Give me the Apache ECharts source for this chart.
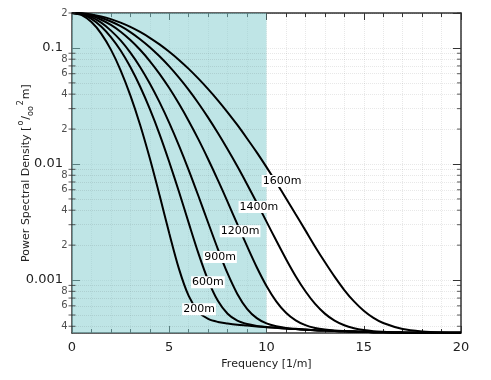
<!DOCTYPE html>
<html>
<head>
<meta charset="utf-8">
<script src="https://cdn.jsdelivr.net/npm/echarts@6/dist/echarts.min.js"></script>
<style>
html, body { margin: 0; padding: 0; background: #fff; }
#chart { width: 491px; height: 380px; }
</style>
</head>
<body>
<div id="chart"></div>
<script>
// frequency samples [1/m]
var freq = [0, 0.5, 1, 1.5, 2, 2.5, 3, 3.5, 4, 4.5, 5, 5.5, 6, 6.5, 7, 7.5, 8, 8.5, 9, 9.5, 10,
	10.5, 11, 11.5, 12, 12.5, 13, 13.5, 14, 14.5, 15, 15.5, 16, 17, 18, 19, 20];

// power spectral density, one list per wavelength
var psd200 = [0.2, 0.192, 0.167, 0.133, 0.0967, 0.0642, 0.039, 0.0218, 0.0112, 0.0054, 0.00253,
	0.00125, 0.00073, 0.000533, 0.000463, 0.000436, 0.000423, 0.000413, 0.000406, 0.000399, 0.000393,
	0.000388, 0.000382, 0.000378, 0.000374, 0.00037, 0.000367, 0.000364, 0.000362, 0.00036, 0.000358,
	0.000356, 0.000355, 0.000353, 0.000352, 0.000351, 0.000351];
var psd600 = [0.2, 0.195, 0.178, 0.153, 0.124, 0.095, 0.0684, 0.0465, 0.0298, 0.0181, 0.0104,
	0.00577, 0.00311, 0.0017, 0.000996, 0.000663, 0.000513, 0.000447, 0.000418, 0.000403, 0.000394,
	0.000388, 0.000382, 0.000378, 0.000374, 0.00037, 0.000367, 0.000364, 0.000362, 0.00036, 0.000358,
	0.000356, 0.000355, 0.000353, 0.000352, 0.000351, 0.000351];
var psd900 = [0.2, 0.196, 0.184, 0.165, 0.141, 0.116, 0.0911, 0.0686, 0.0494, 0.0341, 0.0226,
	0.0144, 0.00887, 0.0053, 0.00312, 0.00185, 0.00114, 0.00076, 0.000566, 0.00047, 0.000423,
	0.0004, 0.000387, 0.00038, 0.000375, 0.00037, 0.000367, 0.000364, 0.000362, 0.00036, 0.000358,
	0.000356, 0.000355, 0.000353, 0.000352, 0.000351, 0.000351];
var psd1200 = [0.2, 0.1975, 0.189, 0.175, 0.158, 0.138, 0.117, 0.0964, 0.0771, 0.0598, 0.0451,
	0.033, 0.0235, 0.0163, 0.011, 0.00727, 0.00472, 0.00303, 0.00196, 0.00129, 0.000889,
	0.000656, 0.000523, 0.00045, 0.000409, 0.000387, 0.000375, 0.000368, 0.000364, 0.000361, 0.000358,
	0.000356, 0.000355, 0.000353, 0.000352, 0.000351, 0.000351];
var psd1400 = [0.2, 0.198, 0.192, 0.182, 0.169, 0.154, 0.137, 0.119, 0.1015, 0.0847, 0.0693,
	0.0554, 0.0435, 0.0334, 0.0251, 0.0185, 0.0134, 0.00956, 0.0067, 0.00464, 0.00319,
	0.00219, 0.00152, 0.00108, 0.000801, 0.000623, 0.000514, 0.000447, 0.000408, 0.000385, 0.000371,
	0.000363, 0.000359, 0.000353, 0.000352, 0.000351, 0.000351];
var psd1600 = [0.2, 0.199, 0.1944, 0.187, 0.1772, 0.1653, 0.1518, 0.1373, 0.1223, 0.1073, 0.0926,
	0.0788, 0.066, 0.0544, 0.0442, 0.0354, 0.0279, 0.0217, 0.0166, 0.0126, 0.0094,
	0.00694, 0.00508, 0.00369, 0.00268, 0.00194, 0.00143, 0.00107, 0.000821, 0.000655, 0.000545,
	0.000473, 0.000427, 0.000379, 0.000361, 0.000354, 0.000352];

var curveNames = ['200m', '600m', '900m', '1200m', '1400m', '1600m'];
var curveData = [psd200, psd600, psd900, psd1200, psd1400, psd1600];
// where each curve carries its name (freq, psd)
var labelFreq = [6.53, 6.99, 7.61, 8.64, 9.61, 10.8];
var labelPsd = [0.00056, 0.00096, 0.00158, 0.00264, 0.00426, 0.00713];

// shaded band
var bandFrom = 0, bandTo = 10;

// log axis minor ticks
var decades = [0.0001, 0.001, 0.01, 0.1];
var tickDigits = [2, 3, 4, 5, 6, 7, 8, 9];
var labelDigits = [2, 4, 6, 8];
var yMin = 0.00035, yMax = 0.2;

var FONT = 'DejaVu Sans';
var INK = '#222';
var GRID = 'rgba(0,0,0,0.09)';

var minorTicks = [];
decades.forEach(function (d) {
	tickDigits.forEach(function (k) {
		var v = +(d * k).toPrecision(3);
		if (v >= yMin && v <= yMax + 1e-12) minorTicks.push({ v: v, k: k });
	});
});

var chart = echarts.init(document.getElementById('chart'));

var series = [];
curveData.forEach(function (arr, i) {
	var s = {
		name: curveNames[i],
		type: 'line',
		data: freq.map(function (f, j) { return [f, arr[j]]; }),
		showSymbol: false,
		smooth: 0.3,
		lineStyle: { color: '#000', width: 2 },
		z: 3,
		markPoint: {
			symbol: 'circle',
			symbolSize: 0,
			silent: true,
			data: [{ coord: [labelFreq[i], labelPsd[i]] }],
			label: {
				show: true,
				position: 'inside',
				formatter: curveNames[i],
				fontFamily: FONT,
				fontSize: 11,
				color: '#000',
				backgroundColor: '#fff',
				padding: [1, 1, 0, 1]
			}
		}
	};
	if (i === 0) {
		s.markArea = {
			silent: true,
			itemStyle: { color: 'rgba(128,204,206,0.5)' },
			data: [[{ xAxis: bandFrom }, { xAxis: bandTo }]]
		};
	}
	series.push(s);
});

// minor ticks + labels on left log axis
series.push({
	type: 'scatter',
	clip: false,
	silent: true,
	z: 5,
	symbol: 'rect',
	symbolSize: [7, 1],
	itemStyle: { color: '#333' },
	data: minorTicks.map(function (t) {
		return {
			value: [0, t.v],
			label: {
				show: labelDigits.indexOf(t.k) >= 0,
				formatter: String(t.k)
			}
		};
	}),
	label: {
		position: 'left',
		distance: 1,
		fontFamily: FONT,
		fontSize: 10,
		color: INK
	},
	markLine: {
		silent: true,
		symbol: 'none',
		precision: 8,
		z: 2,
		label: { show: false },
		lineStyle: { color: GRID, type: 'dotted', width: 1 },
		data: minorTicks.map(function (t) { return { yAxis: t.v }; })
	}
});
// minor ticks on right side
series.push({
	type: 'scatter',
	clip: false,
	silent: true,
	z: 5,
	symbol: 'rect',
	symbolSize: [4, 1],
	symbolOffset: [-2, 0],
	itemStyle: { color: '#333' },
	data: minorTicks.map(function (t) { return [20, t.v]; })
});

var axisLine = { show: true, onZero: false, lineStyle: { color: '#333', width: 1.5 } };
var tickStyle = { color: '#333', width: 1 };

chart.setOption({
	animation: false,
	grid: { left: 72, right: 30, top: 13, bottom: 47, containLabel: false, outerBoundsMode: 'none' },
	xAxis: [
		{
			type: 'value', min: 0, max: 20, interval: 5, position: 'bottom',
			axisLine: axisLine,
			axisTick: { inside: true, length: 7, lineStyle: tickStyle },
			minorTick: { show: true, splitNumber: 5, length: 4, lineStyle: tickStyle },
			axisLabel: { fontFamily: FONT, fontSize: 13, color: INK, margin: 8 },
			splitLine: { show: true, lineStyle: { color: GRID, type: 'dotted' } },
			minorSplitLine: { show: true, lineStyle: { color: GRID, type: 'dotted' } },
			name: 'Frequency [1/m]', nameLocation: 'middle', nameGap: 26, nameMoveOverlap: false,
			nameTextStyle: { fontFamily: FONT, fontSize: 11, color: INK }
		},
		{
			type: 'value', min: 0, max: 20, interval: 5, position: 'top',
			axisLine: axisLine,
			axisTick: { inside: true, length: 7, lineStyle: tickStyle },
			minorTick: { show: true, splitNumber: 5, length: 4, lineStyle: tickStyle },
			axisLabel: { show: false },
			splitLine: { show: false }
		}
	],
	yAxis: [
		{
			type: 'log', logBase: 10, min: yMin, max: yMax, position: 'left',
			axisLine: axisLine,
			axisTick: { inside: true, length: 8, lineStyle: tickStyle },
			axisLabel: {
				fontFamily: FONT, fontSize: 13, color: INK, margin: 9,
				showMinLabel: false, showMaxLabel: false,
				formatter: function (v) {
					var e = Math.log10(v);
					if (Math.abs(e - Math.round(e)) < 1e-6) return String(+v.toPrecision(1));
					return '';
				}
			},
			splitLine: { show: true, lineStyle: { color: GRID, type: 'dotted' } },
			name: '{a|Power Spectral Density [}{sup|o}{a|/}{sub|oo}{sup|2}{a|m]}',
			nameLocation: 'middle', nameGap: 37, nameRotate: 90, nameMoveOverlap: false,
			nameTextStyle: {
				fontFamily: FONT, color: INK,
				rich: {
					a: { fontFamily: FONT, fontSize: 11, color: INK, lineHeight: 18 },
					sup: { fontFamily: FONT, fontSize: 8, color: INK, verticalAlign: 'top', lineHeight: 10, padding: [0, 1, 0, 1] },
					sub: { fontFamily: FONT, fontSize: 8, color: INK, verticalAlign: 'bottom', lineHeight: 10 }
				}
			}
		},
		{
			type: 'log', logBase: 10, min: yMin, max: yMax, position: 'right',
			axisLine: axisLine,
			axisTick: { inside: true, length: 8, lineStyle: tickStyle },
			axisLabel: { show: false },
			splitLine: { show: false }
		}
	],
	series: series
});
</script>
</body>
</html>
